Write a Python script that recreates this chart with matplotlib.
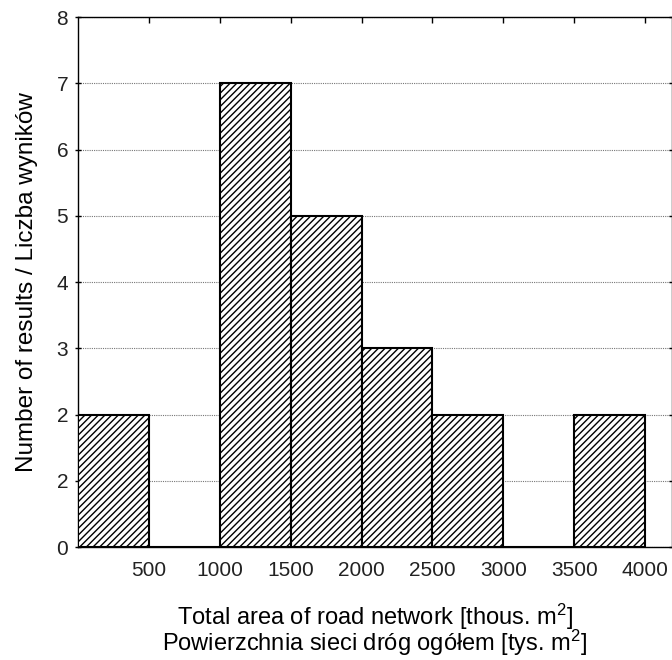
import numpy as np
import matplotlib.pyplot as plt

plt.rcParams['font.family'] = ['Liberation Sans', 'DejaVu Sans']
plt.rcParams['mathtext.fontset'] = 'custom'
plt.rcParams['mathtext.rm'] = 'Liberation Sans'
plt.rcParams['mathtext.default'] = 'regular'
plt.rcParams['hatch.linewidth'] = 1.0
plt.rcParams['text.color'] = '#222222'
plt.rcParams['xtick.labelcolor'] = '#222222'
plt.rcParams['ytick.labelcolor'] = '#222222'

# histogram classes (thous. m2) and number of results in each
bin_edges = [0, 500, 1000, 1500, 2000, 2500, 3000, 3500, 4000]
counts = [2, 0, 7, 5, 3, 2, 0, 2]

x_ticks = [500, 1000, 1500, 2000, 2500, 3000, 3500, 4000]
y_ticks = [0, 1, 2, 3, 4, 5, 6, 7, 8]
y_tick_labels = ['0', '2', '2', '3', '4', '5', '6', '7', '8']

fig = plt.figure(figsize=(6.72, 6.60), dpi=100)
ax = fig.add_axes([0.116, 0.171, 0.884, 0.803])

left = np.array(bin_edges[:-1])
widths = np.diff(bin_edges)
ax.bar(left, counts, width=widths, align='edge', color='white',
       edgecolor='black', linewidth=1.5, hatch='/////', zorder=3)

ax.set_xlim(0, 4190)
ax.set_ylim(0, 8)
ax.set_xticks(x_ticks)
ax.set_xticklabels([str(t) for t in x_ticks], fontsize=15)
ax.set_yticks(y_ticks)
ax.set_yticklabels(y_tick_labels, fontsize=15)

ax.yaxis.grid(True, linestyle=(0, (1, 1)), color='#777777', linewidth=0.8, zorder=0)
ax.set_axisbelow(True)

ax.tick_params(axis='x', which='both', top=True, bottom=False, direction='in',
               length=4, width=1, pad=10)
ax.tick_params(axis='y', which='both', left=True, right=True, direction='inout',
               length=4, width=1, pad=5)
for s in ax.spines.values():
    s.set_linewidth(1.0)

ax.set_xlabel('Total area of road network [thous. m$^2$]\n'
              'Powierzchnia sieci dróg ogółem [tys. m$^2$]',
              fontsize=17, labelpad=16, linespacing=0.78)
ax.set_ylabel('Number of results / Liczba wyników', fontsize=17.5, labelpad=13)

fig.savefig('out.png', dpi=100)
